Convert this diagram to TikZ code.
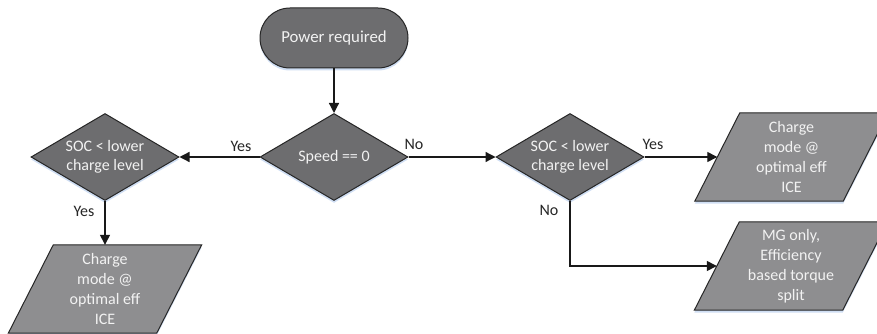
\documentclass[tikz,border=0pt]{standalone}
\usepackage{fontspec}
\setmainfont{Carlito}
\usetikzlibrary{shapes.geometric,arrows.meta,shadows,calc}
\definecolor{decfill}{HTML}{6D6D6F}
\definecolor{parfill}{HTML}{8E8E90}
\definecolor{txtcol}{HTML}{F2F2F2}
\definecolor{glow}{HTML}{C4D6F0}
\pgfdeclarelayer{bg}
\pgfsetlayers{bg,main}
\tikzset{
  glowshadow/.style={drop shadow={shadow xshift=0pt,shadow yshift=-2.5pt,fill=glow,opacity=0.8}},
  txtfont/.style={font=\fontsize{16}{19}\selectfont},
  term/.style={rectangle, rounded corners=30pt, minimum width=148pt, minimum height=60pt,
    fill=decfill, draw=black!85, line width=1pt, glowshadow, text=txtcol,
    font=\fontsize{16.8}{20}\selectfont},
  decision/.style={diamond, aspect=1.7, minimum width=148pt, minimum height=87pt, inner sep=0pt,
    fill=decfill, draw=black!85, line width=1pt, glowshadow, text=txtcol, align=center, txtfont},
  paratext/.style={rectangle, minimum width=148pt, minimum height=88pt, inner sep=0pt,
    text=txtcol, align=center, font=\fontsize{16}{20}\selectfont},
  parashape/.style={fill=parfill, draw=black!85, line width=1pt, glowshadow},
  conn/.style={line width=1.3pt, draw=black!90, -{Triangle[length=10pt,width=10pt]}},
  lbl/.style={text=black!85, font=\fontsize{16}{19}\selectfont, inner sep=0pt}
}
\begin{document}
\begin{tikzpicture}[x=1pt,y=-1pt]
\clip (0,0) rectangle (877,334);

\node[term] (pr) at (334,38) {Power required};
\node[decision] (sp) at (334,157) {Speed == 0};
\node[decision] (socl) at (105,157) {SOC < lower\\charge level};
\node[decision] (socr) at (570,157) {SOC < lower\\charge level};

\node[paratext] (p1) at (791.5,157) {Charge\\mode @\\optimal eff\\ICE};
\node[paratext] (p2) at (791,266) {MG only,\\Efficiency\\based torque\\split};
\node[paratext] (p3) at (105,289) {Charge\\mode @\\optimal eff\\ICE};

\begin{pgfonlayer}{bg}
\fill[white] (0,0) rectangle (877,334);
\foreach \p in {p1,p2,p3}{
  \draw[parashape] ($(\p.north west)+(22.5,0)$) -- ($(\p.north east)+(22.5,0)$)
    -- ($(\p.south east)+(-22.5,0)$) -- ($(\p.south west)+(-22.5,0)$) -- cycle;
}
\end{pgfonlayer}

\draw[conn] (pr) -- (sp);
\draw[conn] (sp) -- (socl);
\draw[conn] (sp) -- (socr);
\draw[conn] (socr) -- (p1);
\draw[conn] (socr.south) |- (p2.west);
\draw[conn] (socl) -- (p3);

\node[lbl] (l1) at (241,146) {Yes};
\node[lbl] (l2) at (414,144) {No};
\node[lbl] (l3) at (653,144) {Yes};
\node[lbl] (l4) at (549,210) {No};
\node[lbl] (l5) at (84,211) {Yes};
\end{tikzpicture}
\end{document}
